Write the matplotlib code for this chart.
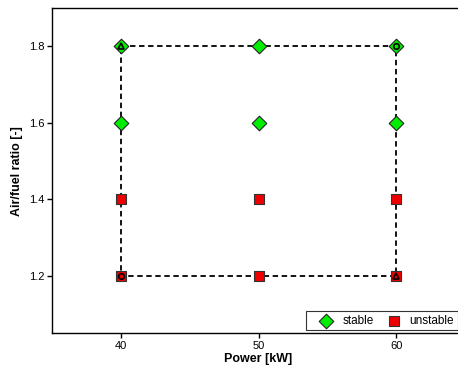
import matplotlib
matplotlib.use("Agg")
import matplotlib.pyplot as plt

plt.rcParams['font.family'] = ['Liberation Sans', 'DejaVu Sans']

stable_power = [40, 40, 50, 50, 60, 60]
stable_afr = [1.8, 1.6, 1.8, 1.6, 1.8, 1.6]
unstable_power = [40, 40, 50, 50, 60, 60]
unstable_afr = [1.4, 1.2, 1.4, 1.2, 1.4, 1.2]
box_power = [40, 60, 60, 40, 40]
box_afr = [1.8, 1.8, 1.2, 1.2, 1.8]
corner_power = [40, 60, 40, 60]
corner_afr = [1.8, 1.8, 1.2, 1.2]
corner_marks = ['^', 'o', 'o', '^']
xticks = [40, 50, 60]
yticks = [1.2, 1.4, 1.6, 1.8]

fig = plt.figure(figsize=(4.58, 3.65), dpi=100)
ax = fig.add_axes([0.1135, 0.0877, 0.902, 0.890])

ax.plot(box_power, box_afr, color='black', linestyle=(0, (3, 2)), linewidth=1.3, zorder=2)
ax.scatter(stable_power, stable_afr, marker='D', s=55, facecolor='#00ee00', edgecolor='#222222', linewidth=0.8, zorder=3, label='stable')
ax.scatter(unstable_power, unstable_afr, marker='s', s=55, facecolor='#ee0000', edgecolor='#333333', linewidth=0.8, zorder=3, label='unstable')
for p, a, m in zip(corner_power, corner_afr, corner_marks):
    ax.plot([p], [a], marker=m, markersize=4, markerfacecolor='none', markeredgecolor='black', markeredgewidth=1.2, linestyle='none', zorder=4)

ax.set_xlim(35, 65)
ax.set_ylim(1.05, 1.9)
ax.set_xticks(xticks)
ax.set_yticks(yticks)
ax.set_yticklabels([f'{v:.1f}' for v in yticks])
ax.tick_params(direction='out', length=3.5, width=1.0, labelsize=8, top=False, right=False, pad=2)
ax.set_xlabel('Power [kW]', fontsize=9, fontweight='bold', labelpad=2)
ax.set_ylabel('Air/fuel ratio [-]', fontsize=9, fontweight='bold', labelpad=4)
for s in ax.spines.values():
    s.set_linewidth(1.0)

leg = ax.legend(loc='lower right', ncol=2, fontsize=8.5, frameon=True, fancybox=False,
                edgecolor='black', borderpad=0.3, handletextpad=-0.05, columnspacing=0.3,
                handlelength=2.8, bbox_to_anchor=(0.985, 0.005), borderaxespad=0.1)
leg.get_frame().set_linewidth(0.8)

fig.savefig('out.png', dpi=100)
